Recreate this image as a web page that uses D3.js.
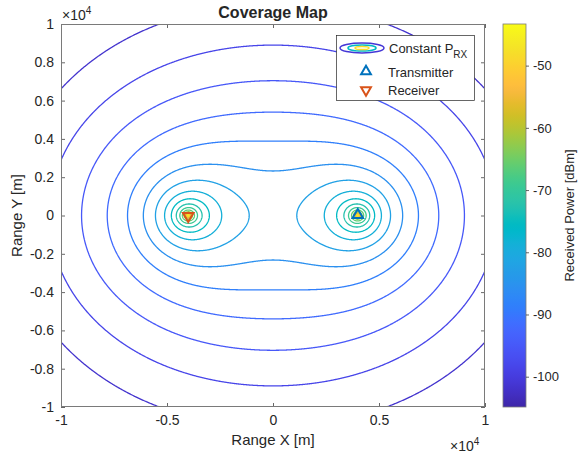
<!DOCTYPE html>
<html>
<head>
<meta charset="utf-8">
<script src="https://cdn.jsdelivr.net/npm/d3@7"></script>
<style>
  html, body { margin: 0; padding: 0; background: #fff; }
  svg { display: block; font-family: "Liberation Sans", Arial, Helvetica, sans-serif; }
  text { fill: #262626; }
</style>
</head>
<body>
<svg id="chart" width="582" height="459"></svg>
<script>
// Bistatic geometry: transmitter and receiver positions [m]
const transmitterPos = [4000, 0];
const receiverPos = [-4000, 0];

// Received power constant in dBm for Rt*Rr = 1 m^2 (bistatic radar equation)
const refPowerDbm = 61.18;

// Contour levels of constant received power [dBm]
const powerLevels = [-101.63, -98.39, -95.15, -91.91, -88.67, -85.43, -82.19, -78.95,
  -75.71, -72.47, -69.23, -65.99, -62.75, -59.51, -56.27, -53.03, -49.79, -46.55];

// Colour limits of the power map [dBm]
const colorLimits = [-104.87, -43.31];

// Tick values
const xTickValues = [-10000, -5000, 0, 5000, 10000];
const yTickValues = [-10000, -8000, -6000, -4000, -2000, 0, 2000, 4000, 6000, 8000, 10000];
const colorTickValues = [-100, -90, -80, -70, -60, -50];

// Parula colormap (64 entries)
const parulaTable = [
  [0.2422,0.1504,0.6603],[0.2504,0.1650,0.7076],[0.2578,0.1818,0.7511],[0.2647,0.1978,0.7952],
  [0.2706,0.2147,0.8364],[0.2751,0.2342,0.8710],[0.2783,0.2559,0.8991],[0.2803,0.2782,0.9221],
  [0.2813,0.3006,0.9414],[0.2810,0.3228,0.9579],[0.2795,0.3447,0.9717],[0.2760,0.3667,0.9829],
  [0.2699,0.3892,0.9906],[0.2602,0.4123,0.9952],[0.2440,0.4358,0.9988],[0.2206,0.4603,0.9973],
  [0.1963,0.4847,0.9892],[0.1834,0.5074,0.9798],[0.1786,0.5289,0.9682],[0.1764,0.5499,0.9520],
  [0.1687,0.5703,0.9359],[0.1540,0.5902,0.9218],[0.1460,0.6091,0.9079],[0.1380,0.6276,0.8973],
  [0.1248,0.6459,0.8883],[0.1113,0.6635,0.8763],[0.0952,0.6798,0.8598],[0.0689,0.6948,0.8394],
  [0.0297,0.7082,0.8163],[0.0036,0.7203,0.7917],[0.0067,0.7312,0.7660],[0.0433,0.7411,0.7394],
  [0.0964,0.7500,0.7120],[0.1408,0.7584,0.6842],[0.1717,0.7670,0.6554],[0.1938,0.7758,0.6251],
  [0.2161,0.7843,0.5923],[0.2470,0.7918,0.5567],[0.2906,0.7973,0.5188],[0.3406,0.8008,0.4789],
  [0.3909,0.8029,0.4354],[0.4456,0.8024,0.3909],[0.5044,0.7993,0.3480],[0.5616,0.7942,0.3045],
  [0.6174,0.7876,0.2612],[0.6720,0.7793,0.2227],[0.7242,0.7698,0.1910],[0.7738,0.7598,0.1646],
  [0.8203,0.7498,0.1535],[0.8634,0.7406,0.1596],[0.9035,0.7330,0.1774],[0.9393,0.7288,0.2100],
  [0.9728,0.7298,0.2394],[0.9956,0.7434,0.2371],[0.9970,0.7659,0.2199],[0.9952,0.7893,0.2028],
  [0.9892,0.8136,0.1885],[0.9786,0.8386,0.1766],[0.9676,0.8639,0.1643],[0.9610,0.8890,0.1537],
  [0.9597,0.9135,0.1423],[0.9628,0.9373,0.1265],[0.9691,0.9606,0.1064],[0.9769,0.9839,0.0805]
];

const parulaColors = parulaTable.map(c => d3.rgb(c[0] * 255, c[1] * 255, c[2] * 255).formatHex());
const parula = d3.scaleLinear()
  .domain(parulaColors.map((_, i) => i / (parulaColors.length - 1)))
  .range(parulaColors)
  .interpolate(d3.interpolateRgb)
  .clamp(true);
const powerColor = v => parula((v - colorLimits[0]) / (colorLimits[1] - colorLimits[0]));

// Layout
const plot = { left: 61, right: 485, top: 24, bottom: 407 };
const cbar = { left: 503, right: 526, top: 24, bottom: 407 };
const axisColor = "#262626";

const svg = d3.select("#chart");

const x = d3.scaleLinear().domain([-10000, 10000]).range([plot.left, plot.right]);
const y = d3.scaleLinear().domain([-10000, 10000]).range([plot.bottom, plot.top]);

// Power field on a regular grid (slightly larger than the view)
const gridMin = -10500, gridMax = 10500, gridStep = 25;
const n = Math.round((gridMax - gridMin) / gridStep) + 1;
const field = new Float64Array(n * n);
for (let j = 0; j < n; j++) {
  const py = gridMin + j * gridStep;
  for (let i = 0; i < n; i++) {
    const px = gridMin + i * gridStep;
    const rt = Math.hypot(px - transmitterPos[0], py - transmitterPos[1]);
    const rr = Math.hypot(px - receiverPos[0], py - receiverPos[1]);
    const p = refPowerDbm - 20 * Math.log10(Math.max(rt * rr, 1e-6));
    field[j * n + i] = Math.min(p, colorLimits[1]);
  }
}

const contours = d3.contours().size([n, n]).thresholds(powerLevels)(field);

const gridToScreen = d3.geoTransform({
  point(gx, gy) {
    this.stream.point(x(gridMin + (gx - 0.5) * gridStep), y(gridMin + (gy - 0.5) * gridStep));
  }
});
const contourPath = d3.geoPath(gridToScreen);

svg.append("clipPath").attr("id", "plot-clip")
  .append("rect")
  .attr("x", plot.left).attr("y", plot.top)
  .attr("width", plot.right - plot.left).attr("height", plot.bottom - plot.top);

const plotArea = svg.append("g").attr("clip-path", "url(#plot-clip)");

plotArea.selectAll("path.contour")
  .data(contours)
  .join("path")
  .attr("class", "contour")
  .attr("d", contourPath)
  .attr("fill", "none")
  .attr("stroke", d => powerColor(d.value))
  .attr("stroke-width", 1.3)
  .attr("stroke-linejoin", "round");

// Transmitter / receiver markers
const triangle = d3.symbol().type(d3.symbolTriangle).size(48);
plotArea.append("path")
  .attr("d", triangle())
  .attr("transform", `translate(${x(transmitterPos[0])},${y(transmitterPos[1]) - 0.5})`)
  .attr("fill", "none").attr("stroke", "#0072BD").attr("stroke-width", 2)
  .attr("stroke-linejoin", "miter");
plotArea.append("path")
  .attr("d", triangle())
  .attr("transform", `translate(${x(receiverPos[0])},${y(receiverPos[1]) + 0.5}) rotate(180)`)
  .attr("fill", "none").attr("stroke", "#D95319").attr("stroke-width", 2)
  .attr("stroke-linejoin", "miter");

// Axes
const fmtTick = d => String(+(d / 10000).toFixed(1));

const xAxisB = d3.axisBottom(x).tickValues(xTickValues).tickFormat(fmtTick).tickSizeInner(-4).tickSizeOuter(0).tickPadding(8);
const xAxisT = d3.axisTop(x).tickValues(xTickValues).tickFormat("").tickSizeInner(-4).tickSizeOuter(0);
const yAxisL = d3.axisLeft(y).tickValues(yTickValues).tickFormat(fmtTick).tickSizeInner(-4).tickSizeOuter(0).tickPadding(7);
const yAxisR = d3.axisRight(y).tickValues(yTickValues).tickFormat("").tickSizeInner(-4).tickSizeOuter(0);

function styleAxis(g) {
  g.select(".domain").remove();
  g.selectAll(".tick line").attr("stroke", axisColor).attr("stroke-width", 0.7);
  g.selectAll(".tick text").attr("fill", axisColor).style("font-size", "14px")
    .style("font-family", "'Liberation Sans', Arial, sans-serif");
}

svg.append("g").attr("transform", `translate(0,${plot.bottom})`).call(xAxisB).call(styleAxis);
svg.append("g").attr("transform", `translate(0,${plot.top})`).call(xAxisT).call(styleAxis);
svg.append("g").attr("transform", `translate(${plot.left},0)`).call(yAxisL).call(styleAxis);
svg.append("g").attr("transform", `translate(${plot.right},0)`).call(yAxisR).call(styleAxis);

svg.append("rect")
  .attr("x", plot.left + 0.5).attr("y", plot.top + 0.5)
  .attr("width", plot.right - plot.left - 1).attr("height", plot.bottom - plot.top - 1)
  .attr("fill", "none").attr("stroke", "#7a7a7a").attr("stroke-width", 1);

// Exponent labels
function exponentLabel(xPos, yPos) {
  const t = svg.append("text").attr("x", xPos).attr("y", yPos).style("font-size", "14px");
  t.append("tspan").text("\u00d710");
  t.append("tspan").attr("dy", -6).style("font-size", "10px").text("4");
}
exponentLabel(62, 19.5);
exponentLabel(450, 451);

// Title and axis labels
svg.append("text").attr("x", (plot.left + plot.right) / 2).attr("y", 18)
  .attr("text-anchor", "middle").style("font-size", "16px").style("font-weight", "bold")
  .text("Coverage Map");
svg.append("text").attr("x", (plot.left + plot.right) / 2).attr("y", 445)
  .attr("text-anchor", "middle").style("font-size", "15px").text("Range X [m]");
svg.append("text")
  .attr("transform", `translate(22,${(plot.top + plot.bottom) / 2}) rotate(-90)`)
  .attr("text-anchor", "middle").style("font-size", "15px").text("Range Y [m]");

// Colorbar
const grad = svg.append("defs").append("linearGradient")
  .attr("id", "parula-grad").attr("x1", 0).attr("y1", 1).attr("x2", 0).attr("y2", 0);
parulaColors.forEach((c, i) => {
  grad.append("stop").attr("offset", i / (parulaColors.length - 1)).attr("stop-color", c);
});
svg.append("rect")
  .attr("x", cbar.left).attr("y", cbar.top)
  .attr("width", cbar.right - cbar.left).attr("height", cbar.bottom - cbar.top)
  .attr("fill", "url(#parula-grad)")
  .attr("stroke", "#7a7a7a").attr("stroke-width", 0.8);

const cScale = d3.scaleLinear().domain(colorLimits).range([cbar.bottom, cbar.top]);
const cAxis = d3.axisRight(cScale).tickValues(colorTickValues).tickFormat(d => String(d))
  .tickSizeInner(3).tickSizeOuter(0).tickPadding(4);
svg.append("g").attr("transform", `translate(${cbar.right},0)`).call(cAxis)
  .call(g => {
    g.select(".domain").remove();
    g.selectAll(".tick line").attr("stroke", axisColor).attr("stroke-width", 0.7);
    g.selectAll(".tick text").attr("fill", axisColor).style("font-size", "13px")
      .style("font-family", "'Liberation Sans', Arial, sans-serif");
  });
svg.append("text")
  .attr("transform", `translate(574,${(cbar.top + cbar.bottom) / 2}) rotate(-90)`)
  .attr("text-anchor", "middle").style("font-size", "13px").text("Received Power [dBm]");

// Legend
const legend = svg.append("g");
legend.append("rect")
  .attr("x", 336.5).attr("y", 35.5).attr("width", 138).attr("height", 65)
  .attr("fill", "#fff").attr("stroke", "#262626").attr("stroke-width", 0.7);

const iconCx = 362, iconCy = 48;
[[22, 5, colorLimits[0] + 4], [14, 3, -76], [7, 1.6, -48]].forEach(([rx, ry, v]) => {
  legend.append("ellipse")
    .attr("cx", iconCx).attr("cy", iconCy).attr("rx", rx).attr("ry", ry)
    .attr("fill", "none").attr("stroke", powerColor(v)).attr("stroke-width", 1.5);
});
const lgText = legend.append("text").attr("x", 389).attr("y", 53).style("font-size", "13px");
lgText.append("tspan").text("Constant P");
lgText.append("tspan").attr("dy", 5).style("font-size", "10px").text("RX");

const lgTriangle = d3.symbol().type(d3.symbolTriangle).size(42);
legend.append("path").attr("d", lgTriangle())
  .attr("transform", "translate(366,71.5)")
  .attr("fill", "none").attr("stroke", "#0072BD").attr("stroke-width", 2);
legend.append("text").attr("x", 388).attr("y", 76.5).style("font-size", "13px").text("Transmitter");

legend.append("path").attr("d", lgTriangle())
  .attr("transform", "translate(366,90) rotate(180)")
  .attr("fill", "none").attr("stroke", "#D95319").attr("stroke-width", 2);
legend.append("text").attr("x", 388).attr("y", 95).style("font-size", "13px").text("Receiver");
</script>
</body>
</html>
